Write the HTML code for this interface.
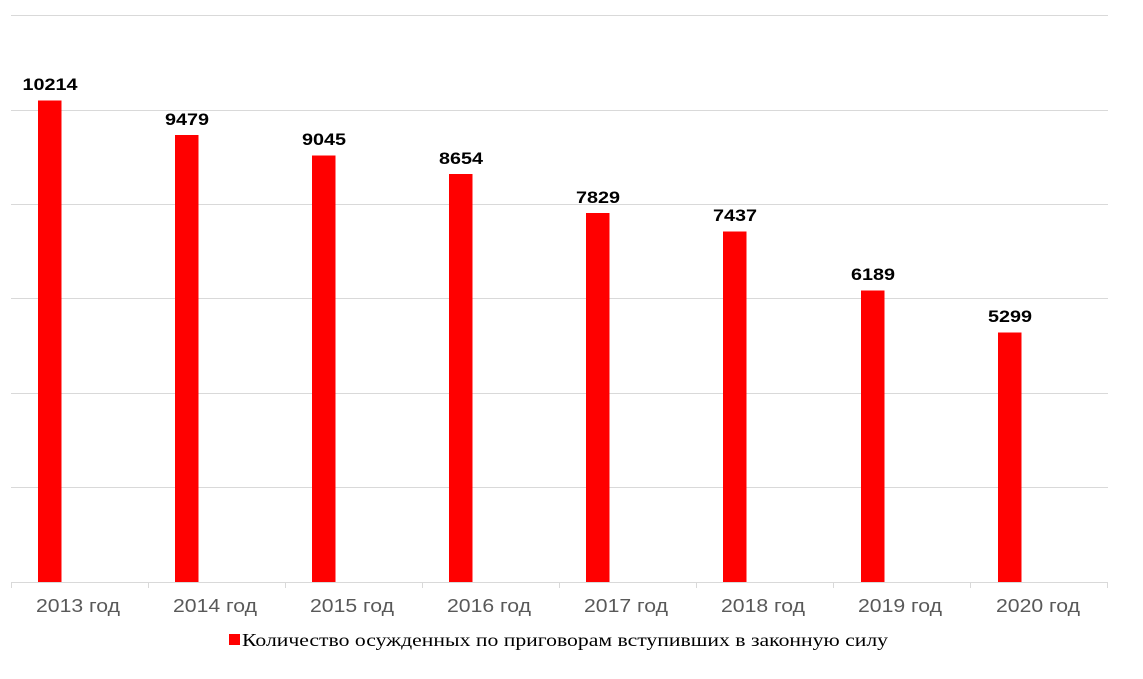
<!DOCTYPE html>
<html><head><meta charset="utf-8"><style>html,body{margin:0;padding:0;background:#fff;width:1143px;height:679px;overflow:hidden}</style></head>
<body>
<svg width="1143" height="679" viewBox="0 0 1143 679" xmlns="http://www.w3.org/2000/svg">
<g stroke="#d9d9d9" stroke-width="1">
<line x1="11" y1="15.5" x2="1108" y2="15.5"/>
<line x1="11" y1="110.5" x2="1108" y2="110.5"/>
<line x1="11" y1="204.5" x2="1108" y2="204.5"/>
<line x1="11" y1="298.5" x2="1108" y2="298.5"/>
<line x1="11" y1="393.5" x2="1108" y2="393.5"/>
<line x1="11" y1="487.5" x2="1108" y2="487.5"/>
<line x1="11" y1="582.5" x2="1108" y2="582.5"/>
<line x1="11.5" y1="582" x2="11.5" y2="588"/>
<line x1="148.5" y1="582" x2="148.5" y2="588"/>
<line x1="285.5" y1="582" x2="285.5" y2="588"/>
<line x1="422.5" y1="582" x2="422.5" y2="588"/>
<line x1="559.5" y1="582" x2="559.5" y2="588"/>
<line x1="696.5" y1="582" x2="696.5" y2="588"/>
<line x1="833.5" y1="582" x2="833.5" y2="588"/>
<line x1="970.5" y1="582" x2="970.5" y2="588"/>
<line x1="1107.5" y1="582" x2="1107.5" y2="588"/>
</g>
<g fill="#ff0000">
<rect x="38" y="100.5" width="23.5" height="481.5"/>
<rect x="175" y="135" width="23.5" height="447"/>
<rect x="312" y="155.5" width="23.5" height="426.5"/>
<rect x="449" y="174" width="23.5" height="408"/>
<rect x="586" y="213" width="23.5" height="369"/>
<rect x="723" y="231.5" width="23.5" height="350.5"/>
<rect x="861" y="290.5" width="23.5" height="291.5"/>
<rect x="998" y="332.5" width="23.5" height="249.5"/>
</g>
<g font-family="Liberation Sans, sans-serif" font-weight="bold" font-size="17" fill="#000" text-anchor="middle" lengthAdjust="spacingAndGlyphs">
<text x="50" y="90" textLength="55" lengthAdjust="spacingAndGlyphs">10214</text>
<text x="187" y="125" textLength="44" lengthAdjust="spacingAndGlyphs">9479</text>
<text x="324" y="145" textLength="44" lengthAdjust="spacingAndGlyphs">9045</text>
<text x="461" y="164" textLength="44" lengthAdjust="spacingAndGlyphs">8654</text>
<text x="598" y="203" textLength="44" lengthAdjust="spacingAndGlyphs">7829</text>
<text x="735" y="221" textLength="44" lengthAdjust="spacingAndGlyphs">7437</text>
<text x="873" y="280" textLength="44" lengthAdjust="spacingAndGlyphs">6189</text>
<text x="1010" y="322" textLength="44" lengthAdjust="spacingAndGlyphs">5299</text>
</g>
<g font-family="Liberation Sans, sans-serif" font-size="18" fill="#595959" text-anchor="middle">
<text x="78" y="612" textLength="84" lengthAdjust="spacingAndGlyphs">2013 год</text>
<text x="215" y="612" textLength="84" lengthAdjust="spacingAndGlyphs">2014 год</text>
<text x="352" y="612" textLength="84" lengthAdjust="spacingAndGlyphs">2015 год</text>
<text x="489" y="612" textLength="84" lengthAdjust="spacingAndGlyphs">2016 год</text>
<text x="626" y="612" textLength="84" lengthAdjust="spacingAndGlyphs">2017 год</text>
<text x="763" y="612" textLength="84" lengthAdjust="spacingAndGlyphs">2018 год</text>
<text x="900" y="612" textLength="84" lengthAdjust="spacingAndGlyphs">2019 год</text>
<text x="1038" y="612" textLength="84" lengthAdjust="spacingAndGlyphs">2020 год</text>
</g>
<rect x="229" y="634" width="11" height="11" fill="#ff0000"/>
<text x="242" y="646" font-family="Liberation Serif, serif" font-size="18" fill="#000" textLength="646" lengthAdjust="spacingAndGlyphs">Количество осужденных по приговорам вступивших в законную силу</text>
</svg>
</body></html>
